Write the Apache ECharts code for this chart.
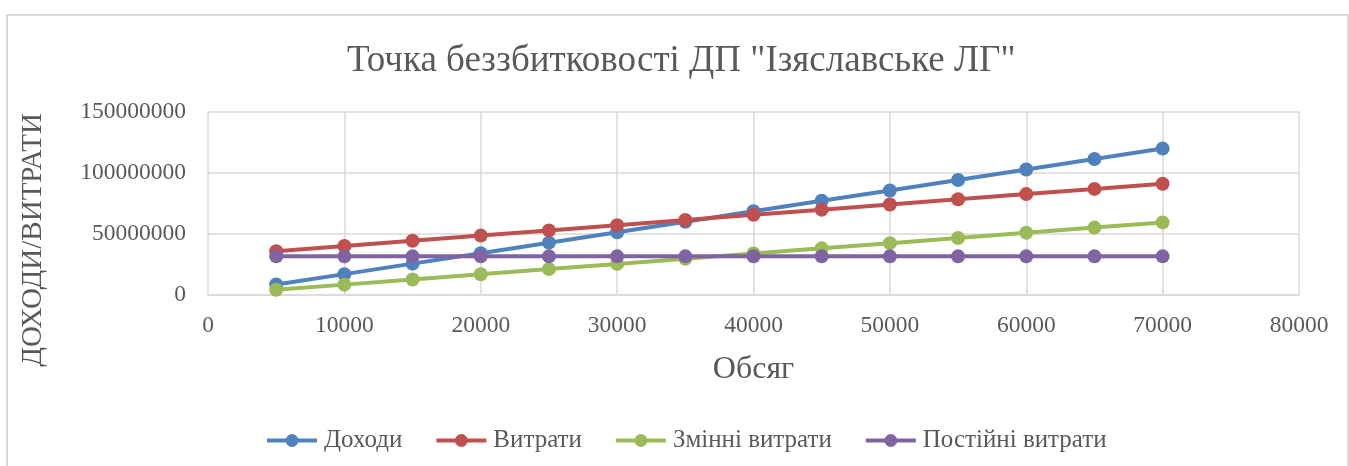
<!DOCTYPE html>
<html>
<head>
<meta charset="utf-8">
<script src="https://cdn.jsdelivr.net/npm/echarts@6/dist/echarts.min.js"></script>
<style>
html, body { margin: 0; padding: 0; background: #fff; }
#main { width: 1349px; height: 466px; }
</style>
</head>
<body>
<div id="main"></div>
<script>
var volume = [5000, 10000, 15000, 20000, 25000, 30000, 35000, 40000, 45000, 50000, 55000, 60000, 65000, 70000];
var incomes = [8600000, 17100000, 25700000, 34300000, 42900000, 51400000, 60000000, 68600000, 77200000, 85700000, 94300000, 102900000, 111500000, 120000000];
var costs = [35950000, 40200000, 44450000, 48700000, 52950000, 57200000, 61450000, 65700000, 69950000, 74200000, 78450000, 82700000, 86950000, 91200000];
var varCosts = [4250000, 8500000, 12750000, 17000000, 21250000, 25500000, 29750000, 34000000, 38250000, 42500000, 46750000, 51000000, 55250000, 59500000];
var fixedCosts = [31700000, 31700000, 31700000, 31700000, 31700000, 31700000, 31700000, 31700000, 31700000, 31700000, 31700000, 31700000, 31700000, 31700000];

var names = ['Доходи', 'Витрати', 'Змінні витрати', 'Постійні витрати'];
var values = [incomes, costs, varCosts, fixedCosts];
var colors = ['#4f81bd', '#c0504d', '#9bbb59', '#8064a2'];

var FONT = '"Liberation Serif", "Times New Roman", serif';
var TXT = '#595959';

var chart = echarts.init(document.getElementById('main'));

var series = [];
for (var i = 0; i < names.length; i++) {
	series.push({
		name: names[i],
		type: 'line',
		data: volume.map(function (x, k) { return [x, values[i][k]]; }),
		symbol: 'circle',
		symbolSize: 14,
		lineStyle: { width: 4, color: colors[i] },
		itemStyle: { color: colors[i] },
		z: 2 + i
	});
}

var option = {
	animation: false,
	textStyle: { fontFamily: FONT },
	color: colors,
	graphic: [{
		type: 'rect',
		shape: { x: 7, y: 15, width: 1341, height: 470 },
		style: { fill: 'none', stroke: '#d9d9d9', lineWidth: 2 },
		silent: true
	}, {
		// y axis title, placed like the original (lower than the grid centre)
		type: 'text',
		x: 33,
		y: 240,
		rotation: Math.PI / 2,
		style: {
			text: 'ДОХОДИ/ВИТРАТИ',
			fontFamily: FONT,
			fontSize: 29,
			fill: TXT,
			textAlign: 'center',
			textVerticalAlign: 'middle'
		},
		silent: true
	}],
	title: {
		text: 'Точка беззбитковості ДП "Ізяславське ЛГ"',
		left: 342,
		top: 38,
		textStyle: { fontFamily: FONT, fontSize: 37, fontWeight: 'normal', color: TXT }
	},
	legend: {
		top: 423,
		left: 260,
		itemWidth: 50,
		itemHeight: 16,
		itemGap: 32,
		data: names,
		lineStyle: { width: 4 },
		textStyle: { fontFamily: FONT, fontSize: 25, color: TXT, padding: [0, 0, 0, 2] }
	},
	grid: { left: 208, right: 50, top: 112, bottom: 171 },
	xAxis: {
		type: 'value',
		min: 0,
		max: 80000,
		interval: 10000,
		name: 'Обсяг',
		nameLocation: 'middle',
		nameGap: 59,
		nameTextStyle: { fontFamily: FONT, fontSize: 32, color: TXT },
		axisLine: { show: true, lineStyle: { color: '#d9d9d9', width: 1.5 } },
		axisTick: { show: false },
		splitLine: { show: true, lineStyle: { color: '#d9d9d9', width: 1.5 } },
		axisLabel: { fontFamily: FONT, fontSize: 23.5, color: TXT, margin: 19, formatter: function (v) { return String(v); } }
	},
	yAxis: {
		type: 'value',
		min: 0,
		max: 150000000,
		interval: 50000000,
		axisLine: { show: false },
		axisTick: { show: false },
		splitLine: { show: true, lineStyle: { color: '#d9d9d9', width: 1.5 } },
		axisLabel: { fontFamily: FONT, fontSize: 23.5, color: TXT, margin: 22, formatter: function (v) { return String(v); } }
	},
	series: series
};

chart.setOption(option);
</script>
</body>
</html>
